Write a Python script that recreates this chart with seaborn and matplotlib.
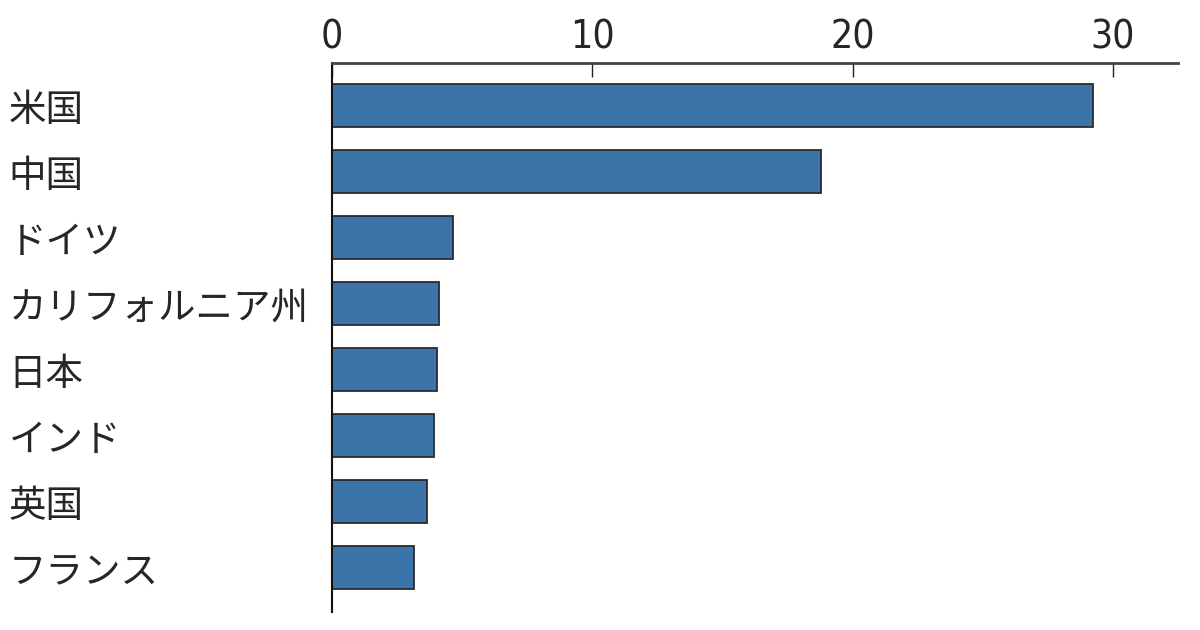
import matplotlib
matplotlib.use("Agg")
import matplotlib.pyplot as plt
import seaborn as sns
import pandas as pd

countries = ["米国", "中国", "ドイツ", "カリフォルニア州", "日本", "インド", "英国", "フランス"]
values = [29.25, 18.8, 4.65, 4.1, 4.03, 3.9, 3.65, 3.15]
x_ticks = [0, 10, 20, 30]

sns.set_theme(style="white")
plt.rcParams["font.family"] = ["Noto Sans CJK JP", "DejaVu Sans"]

df = pd.DataFrame({"country": countries, "value": values})

fig = plt.figure(figsize=(12, 6.3), dpi=100)
ax = fig.add_axes([0.2767, 0.0286, 0.705, 0.8714])

sns.barplot(data=df, x="value", y="country", orient="h", color="#3a74a8",
            saturation=1, width=0.65, edgecolor="#2b2b2b", linewidth=1.3, ax=ax)

ax.set_xlim(0, 32.5)
ax.set_ylim(7.67, -0.65)
ax.set_xticks(x_ticks)
ax.xaxis.tick_top()
ax.tick_params(axis="x", direction="in", length=10, width=1, color="#222222",
               pad=5, top=True, bottom=False)
for lab in ax.get_xticklabels():
    lab.set_fontfamily("DejaVu Sans")
    lab.set_fontstretch("condensed")
    lab.set_fontsize(28)
ax.tick_params(axis="y", length=0, labelsize=27, pad=233)
for lab in ax.get_yticklabels():
    lab.set_horizontalalignment("left")
ax.set_xlabel("")
ax.set_ylabel("")

for side in ["right", "bottom"]:
    ax.spines[side].set_visible(False)
ax.spines["top"].set_color("#444444")
ax.spines["top"].set_linewidth(2)
ax.spines["left"].set_color("#111111")
ax.spines["left"].set_linewidth(1.5)

fig.savefig("out.png", dpi=100)
